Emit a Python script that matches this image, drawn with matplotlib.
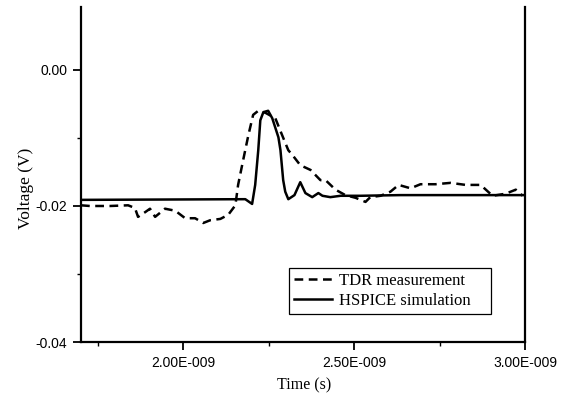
import numpy as np
import matplotlib
matplotlib.use('Agg')
import matplotlib.pyplot as plt
from matplotlib.ticker import FixedLocator

# TDR measurement (time in ns, voltage in V)
t_tdr = [1.700, 1.726, 1.785, 1.838, 1.858, 1.867, 1.888, 1.902, 1.917, 1.946,
         1.976, 2.005, 2.034, 2.058, 2.078, 2.108, 2.131, 2.152, 2.160, 2.175,
         2.190, 2.204, 2.219, 2.240, 2.269, 2.289, 2.307, 2.319, 2.342, 2.372,
         2.401, 2.416, 2.445, 2.474, 2.504, 2.533, 2.547, 2.577, 2.606, 2.630,
         2.665, 2.694, 2.738, 2.782, 2.826, 2.870, 2.905, 2.943, 2.973, 2.993]
v_tdr = [-0.0199, -0.0200, -0.0200, -0.0199, -0.0203, -0.0216, -0.0209, -0.0204, -0.0216, -0.0204,
         -0.0207, -0.0218, -0.0218, -0.0225, -0.0221, -0.0219, -0.0213, -0.0199, -0.0169, -0.0132,
         -0.0096, -0.0066, -0.0060, -0.0063, -0.0071, -0.0096, -0.0118, -0.0125, -0.0140, -0.0147,
         -0.0162, -0.0162, -0.0176, -0.0184, -0.0188, -0.0194, -0.0187, -0.0185, -0.0179, -0.0169,
         -0.0174, -0.0168, -0.0168, -0.0166, -0.0169, -0.0169, -0.0185, -0.0182, -0.0176, -0.0185]

# HSPICE simulation
t_sim = [1.700, 2.181, 2.201, 2.210, 2.219, 2.225, 2.234, 2.248, 2.260, 2.278,
         2.284, 2.292, 2.298, 2.307, 2.325, 2.342, 2.357, 2.377, 2.395, 2.407,
         2.430, 2.460, 2.518, 2.635, 2.782, 3.000]
v_sim = [-0.0191, -0.0190, -0.0197, -0.0169, -0.0118, -0.0074, -0.0062, -0.0060, -0.0071, -0.0099,
         -0.0118, -0.0162, -0.0179, -0.0190, -0.0184, -0.0165, -0.0181, -0.0187, -0.0181, -0.0185,
         -0.0187, -0.0185, -0.0185, -0.0184, -0.0184, -0.0184]

xticks = [2.0e-9, 2.5e-9, 3.0e-9]
xticklabels = ['2.00E-009', '2.50E-009', '3.00E-009']
yticks = [-0.04, -0.02, 0.00]
yticklabels = ['-0.04', '-0.02', '0.00']

fig = plt.figure(figsize=(5.63, 3.97), dpi=100)
ax = fig.add_axes([81/563, 55/397, 444/563, 335/397])

ax.plot(np.array(t_tdr)*1e-9, v_tdr, color='black', lw=1.8,
        dashes=(3.5, 2.2), label='TDR measurement')
ax.plot(np.array(t_sim)*1e-9, v_sim, color='black', lw=1.8,
        label='HSPICE simulation')

ax.set_xlim(1.7e-9, 3.0e-9)
ax.set_ylim(-0.04, 0.00926)

ax.set_xticks(xticks)
ax.set_xticklabels(xticklabels, family='Liberation Sans', fontsize=10)
ax.set_yticks(yticks)
ax.set_yticklabels(yticklabels, family='Liberation Sans', fontsize=10)
ax.xaxis.set_minor_locator(FixedLocator([1.75e-9, 2.25e-9, 2.75e-9]))
ax.yaxis.set_minor_locator(FixedLocator([-0.03, -0.01]))
ax.tick_params(which='major', direction='out', length=6, width=1.3, pad=4)
ax.tick_params(which='minor', direction='out', length=3, width=1.0)

ax.spines['top'].set_visible(False)
for s in ['left', 'right', 'bottom']:
    ax.spines[s].set_linewidth(1.6)

ax.set_xlabel('Time (s)', family='Liberation Serif', fontsize=11.5)
ax.set_ylabel('Voltage (V)', family='Liberation Serif', fontsize=12.5)
ax.xaxis.set_label_coords((304.5-81)/444, -0.105)
ax.yaxis.set_label_coords(-0.105, 0.46)

leg = ax.legend(loc='lower left', bbox_to_anchor=((289-81)/444, (342-314)/335, (491-289)/444, (314-263)/335),
                mode='expand', prop={'family': 'Liberation Serif', 'size': 12},
                frameon=True, fancybox=False, edgecolor='black', framealpha=1,
                handlelength=2.3, handletextpad=0.4, borderaxespad=0, labelspacing=0.25,
                borderpad=0.3)
leg.get_frame().set_linewidth(0.9)

plt.savefig('out.png', dpi=100)
